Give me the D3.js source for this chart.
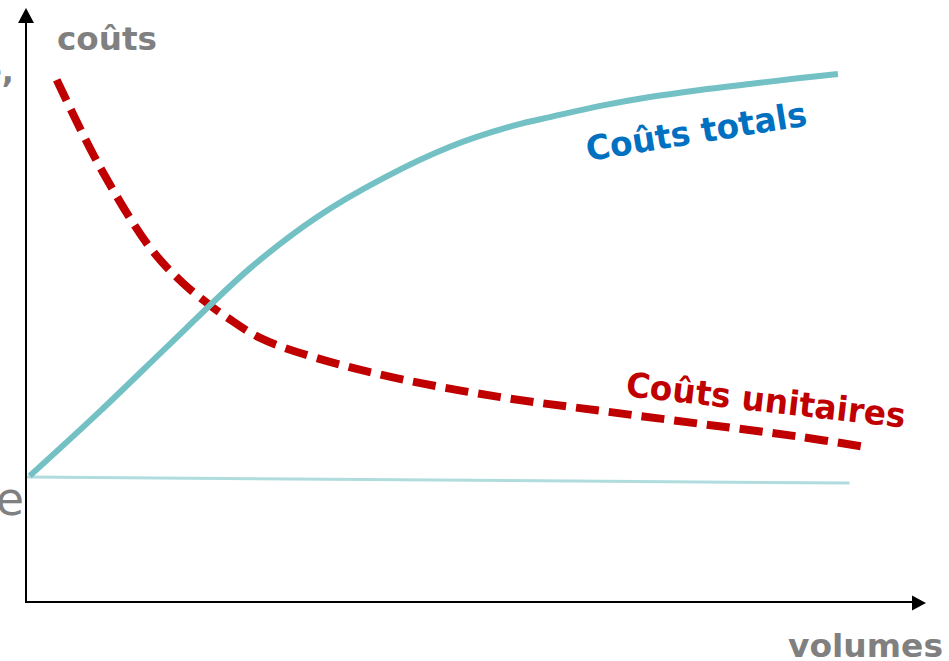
<!DOCTYPE html>
<html>
<head>
<meta charset="utf-8">
<script src="https://cdn.jsdelivr.net/npm/d3@7"></script>
<style>
  html, body { margin: 0; padding: 0; background: #fff; }
  svg { display: block; }
</style>
</head>
<body>
<svg id="chart" width="949" height="661"></svg>
<script>
// ---- data (volume 0..100, cost 0..100) ----
const totalVolumes = [0.3, 8.1, 15.9, 24.8, 32.2, 39.6, 47.0, 54.4, 58.1, 63.7, 69.2, 74.8, 80.3, 85.9, 90.1];
const totalCosts   = [21.3, 32.2, 43.6, 56.4, 65.0, 71.6, 76.9, 80.6, 81.9, 83.8, 85.3, 86.5, 87.5, 88.5, 89.2];

const unitVolumes = [3.3, 8.1, 13.7, 17.3, 20.6, 22.2, 25.9, 32.2, 41.4, 52.6, 63.7, 74.8, 85.9, 93.1];
const unitCosts   = [88.2, 73.5, 59.8, 53.9, 49.8, 48.1, 44.6, 41.2, 37.7, 34.6, 32.3, 30.1, 27.9, 26.2];

const fixedVolumes = [0, 91.4];
const fixedCosts   = [21.1, 20.1];

const axisLabels = { y: "coûts", x: "volumes" };
const seriesLabels = ["Coûts totals", "Coûts unitaires"];

// ---- layout ----
const svg = d3.select("#chart");
const x = d3.scaleLinear().domain([0, 100]).range([27, 927]);
const y = d3.scaleLinear().domain([0, 100]).range([602, 10]);

const line = d3.line().x(d => x(d[0])).y(d => y(d[1])).curve(d3.curveCatmullRom.alpha(0.5));

const fixedData = fixedVolumes.map((v, i) => [v, fixedCosts[i]]);
const unitData  = unitVolumes.map((v, i) => [v, unitCosts[i]]);
const totalData = totalVolumes.map((v, i) => [v, totalCosts[i]]);

// fixed cost line
svg.append("path").datum(fixedData)
  .attr("d", d3.line().x(d => x(d[0])).y(d => y(d[1])))
  .attr("fill", "none").attr("stroke", "#B0DCDE").attr("stroke-width", 3);

// unit costs (dashed red)
svg.append("path").datum(unitData)
  .attr("d", line)
  .attr("fill", "none").attr("stroke", "#C00000").attr("stroke-width", 8)
  .attr("stroke-dasharray", "23,10");

// total costs (teal)
svg.append("path").datum(totalData)
  .attr("d", line)
  .attr("fill", "none").attr("stroke", "#73C1C5").attr("stroke-width", 6);

// ---- axes ----
const xAxis = d3.axisBottom(x).tickValues([]).tickSizeOuter(0);
const yAxis = d3.axisLeft(y).tickValues([]).tickSizeOuter(0);

const gx = svg.append("g").attr("transform", `translate(0,${y(0)})`).call(xAxis);
gx.select(".domain").attr("stroke", "#000").attr("stroke-width", 2)
  .attr("d", `M${x(0) - 1},0H${915}`);
const gy = svg.append("g").attr("transform", `translate(${x(0) - 1},0)`).call(yAxis);
gy.select(".domain").attr("stroke", "#000").attr("stroke-width", 2)
  .attr("d", `M0,${y(0) + 1}V${22}`);

// arrowheads
svg.append("path").attr("d", "M926,603 L912,595.5 L912,610.5 Z").attr("fill", "#000");
svg.append("path").attr("d", "M26,8 L18,23 L34,23 Z").attr("fill", "#000");

// ---- texts ----
const font = "'DejaVu Sans', Verdana, sans-serif";

svg.append("text").text(axisLabels.y)
  .attr("x", 57).attr("y", 50)
  .attr("font-family", font).attr("font-weight", "bold").attr("font-size", 32)
  .attr("fill", "#808080")
  .attr("textLength", 100).attr("lengthAdjust", "spacingAndGlyphs");

svg.append("text").text(axisLabels.x)
  .attr("x", 788).attr("y", 657)
  .attr("font-family", font).attr("font-weight", "bold").attr("font-size", 32)
  .attr("fill", "#808080")
  .attr("textLength", 155).attr("lengthAdjust", "spacingAndGlyphs");

// partially cut-off texts at the left edge
svg.append("text").text("e,")
  .attr("x", 14).attr("y", 82).attr("text-anchor", "end")
  .attr("font-family", font).attr("font-weight", "bold").attr("font-size", 32)
  .attr("fill", "#808080");
svg.append("text").text("e")
  .attr("x", 24).attr("y", 515).attr("text-anchor", "end")
  .attr("font-family", font).attr("font-size", 46)
  .attr("fill", "#808080");

// series labels
svg.append("text").text(seriesLabels[0])
  .attr("transform", "translate(588,161) rotate(-9.2)")
  .attr("font-family", font).attr("font-weight", "bold").attr("font-size", 34)
  .attr("fill", "#0070C0")
  .attr("textLength", 223).attr("lengthAdjust", "spacingAndGlyphs");

svg.append("text").text(seriesLabels[1])
  .attr("transform", "translate(625,396) rotate(6.5)")
  .attr("font-family", font).attr("font-weight", "bold").attr("font-size", 34)
  .attr("fill", "#C00000")
  .attr("textLength", 281).attr("lengthAdjust", "spacingAndGlyphs");
</script>
</body>
</html>
